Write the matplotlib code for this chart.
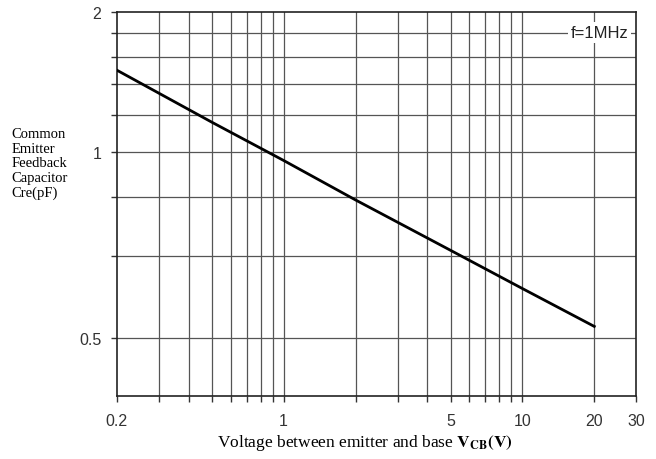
import numpy as np
import matplotlib
matplotlib.use('Agg')
import matplotlib.pyplot as plt
from matplotlib.ticker import FixedLocator, NullFormatter

plt.rcParams['mathtext.fontset'] = 'stix'

# Cre vs V_CB (log-log, straight line)
vcb = [0.2, 0.5, 1, 2, 5, 10, 20]
cre = [1.50, 1.16, 0.96, 0.79, 0.616, 0.510, 0.423]

x_major = [0.2, 1, 5, 10, 20, 30]
x_major_labels = ['0.2', '1', '5', '10', '20', '30']
x_grid = [0.3, 0.4, 0.5, 0.6, 0.7, 0.8, 0.9, 1, 2, 3, 4, 5, 6, 7, 8, 9, 10, 20]

y_major = [0.4, 1, 2]
y_major_labels = ['0.5', '1', '2']
y_grid = [0.4, 0.6, 0.8, 1, 1.2, 1.4, 1.6, 1.8]

fig = plt.figure(figsize=(6.56, 4.6), dpi=100)
ax = fig.add_axes([0.178, 0.137, 0.792, 0.835])
ax.set_xscale('log')
ax.set_yscale('log')
ax.set_xlim(0.2, 30)
ax.set_ylim(0.3, 2)

for v in x_grid:
    ax.axvline(v, color='#555555', lw=0.9, zorder=1)
for v in y_grid:
    ax.axhline(v, color='#555555', lw=0.9, zorder=1)

ax.plot(vcb, cre, color='black', lw=2, zorder=3)

ax.xaxis.set_major_locator(FixedLocator(x_major))
ax.set_xticklabels(x_major_labels)
ax.xaxis.set_minor_locator(FixedLocator(x_grid))
ax.xaxis.set_minor_formatter(NullFormatter())
ax.yaxis.set_major_locator(FixedLocator(y_major))
ax.set_yticklabels(y_major_labels)
ax.yaxis.set_minor_locator(FixedLocator(y_grid))
ax.yaxis.set_minor_formatter(NullFormatter())

ax.tick_params(which='both', direction='out', length=4, width=1, color='#333333')
ax.tick_params(axis='x', which='major', pad=8, labelsize=11.5, labelcolor='#333333')
ax.tick_params(axis='y', which='major', pad=7, labelsize=11.5, labelcolor='#333333')
for lab in ax.get_xticklabels() + ax.get_yticklabels():
    lab.set_family('Liberation Sans')
for s in ax.spines.values():
    s.set_linewidth(1.2)
    s.set_color('#222222')

ax.text(0.985, 0.965, 'f=1MHz', transform=ax.transAxes, ha='right', va='top',
        fontsize=12, family='Liberation Sans', color='#222222', zorder=4,
        bbox=dict(facecolor='white', edgecolor='none', pad=2))

fig.text(0.018, 0.722, 'Common\nEmitter\nFeedback\nCapacitor\nCre(pF)',
         ha='left', va='top', fontsize=10.5, family='Liberation Serif',
         linespacing=1.17)

fig.text(0.556, 0.037, r'Voltage between emitter and base $\mathbf{V}_{\mathbf{CB}}\mathbf{(V)}$',
         ha='center', va='center', fontsize=12.5, family='Liberation Serif')

fig.savefig('out.png', dpi=100)
